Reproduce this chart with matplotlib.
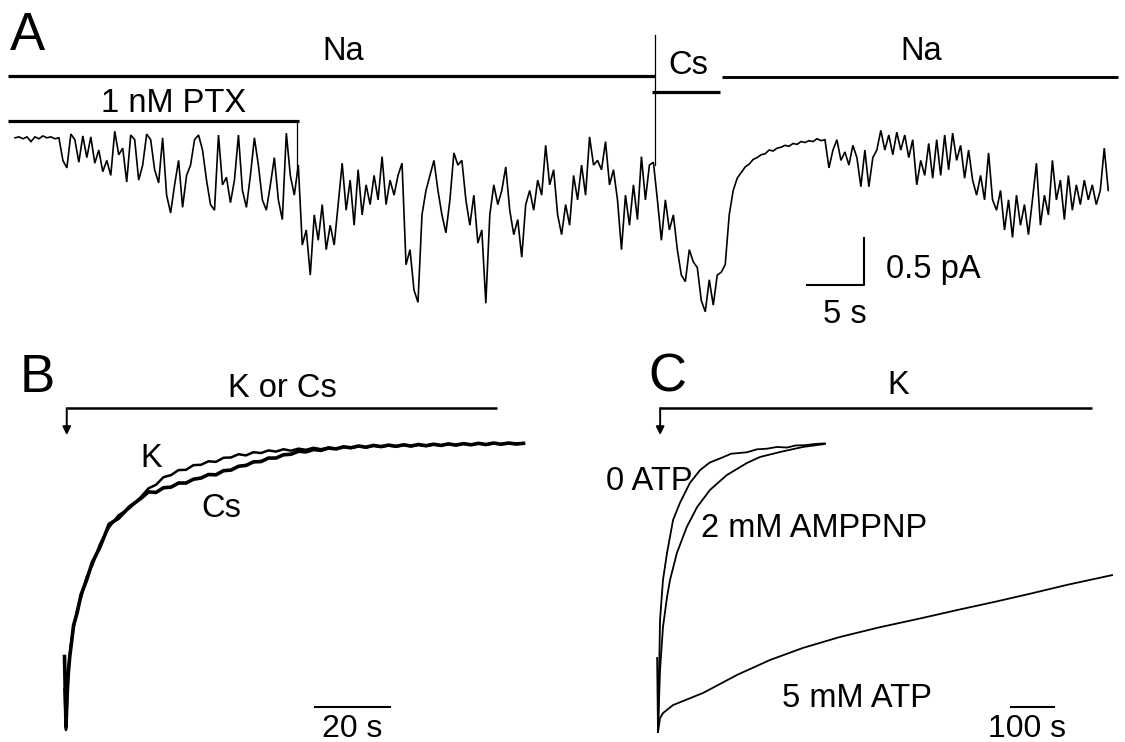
import numpy as np
import matplotlib
matplotlib.use("Agg")
import matplotlib.pyplot as plt

plt.rcParams['font.family'] = ['Liberation Sans', 'DejaVu Sans']

# ---------------- Panel A data (single-channel-like current, pA) ----------------
dt_A = 0.35
trace_A_pA = [
    -0.03, -0.02, -0.04, -0.02, -0.07, -0.02, -0.04, -0.01, -0.03, -0.02, -0.04, -0.03,
    -0.27, -0.35, 0.01, -0.05, -0.29, -0.01, -0.24, -0.02, -0.30, -0.16, -0.39, -0.27,
    -0.43, 0.04, -0.21, -0.14, -0.50, 0.00, -0.05, -0.48, -0.32, 0.01, -0.05, -0.37,
    -0.51, -0.03, -0.64, -0.83, -0.53, -0.27, -0.77, -0.43, -0.32, -0.05, 0.00, -0.16,
    -0.48, -0.74, -0.80, 0.00, -0.53, -0.45, -0.72, -0.48, 0.00, -0.59, -0.77, -0.43,
    -0.03, -0.32, -0.69, -0.80, -0.53, -0.24, -0.69, -0.90, 0.02, -0.43, -0.64, -0.32,
    -1.17, -1.01, -1.49, -0.85, -1.12, -0.74, -1.22, -0.96, -1.17, -0.74, -0.30, -0.80,
    -0.48, -0.96, -0.37, -0.85, -0.53, -0.74, -0.43, -0.69, -0.23, -0.74, -0.48, -0.64,
    -0.43, -0.30, -1.38, -1.22, -1.65, -1.78, -0.85, -0.59, -0.43, -0.27, -0.59, -0.85,
    -1.04, -0.69, -0.19, -0.32, -0.27, -0.69, -0.96, -0.64, -1.15, -1.01, -1.79, -0.85,
    -0.53, -0.74, -0.59, -0.34, -0.80, -1.06, -0.90, -1.30, -0.74, -0.59, -0.80, -0.48,
    -0.64, -0.11, -0.53, -0.37, -0.85, -1.06, -0.74, -0.96, -0.43, -0.69, -0.32, -0.64,
    -0.02, -0.32, -0.27, -0.37, -0.07, -0.53, -0.37, -0.69, -1.22, -0.64, -0.96, -0.53,
    -0.90, -0.23, -0.69, -0.32, -0.29, -0.69, -1.12, -0.69, -1.01, -0.85, -1.22, -1.49,
    -1.56, -1.22, -1.35, -1.41, -1.76, -1.88, -1.54, -1.81, -1.49, -1.46, -1.38, -0.85,
    -0.59, -0.46, -0.40, -0.34, -0.31, -0.26, -0.24, -0.21, -0.20, -0.16, -0.17, -0.14,
    -0.13, -0.11, -0.12, -0.09, -0.10, -0.07, -0.08, -0.06, -0.07, -0.04, -0.06, -0.05,
    -0.35, -0.16, -0.05, -0.27, -0.18, -0.32, -0.11, -0.24, -0.55, -0.16, -0.55, -0.24,
    -0.16, 0.05, -0.16, 0.00, -0.21, 0.03, -0.16, 0.00, -0.24, -0.05, -0.53, -0.27,
    -0.43, -0.09, -0.46, -0.05, -0.43, 0.00, -0.37, 0.02, -0.27, -0.11, -0.46, -0.16,
    -0.48, -0.64, -0.43, -0.69, -0.19, -0.69, -0.80, -0.59, -1.01, -0.69, -1.09, -0.64,
    -0.96, -0.74, -1.06, -0.69, -0.30, -0.96, -0.64, -0.85, -0.27, -0.69, -0.48, -0.90,
    -0.43, -0.80, -0.53, -0.74, -0.48, -0.69, -0.53, -0.74, -0.59, -0.14, -0.59,
]
# solution exchange times (s)
A_na1 = (-0.6, 56.1)
A_cs = (55.9, 61.8)
A_na2 = (62.0, 96.75)
A_ptx = (-0.6, 24.9)

# ---------------- Panel B data (normalised current) ----------------
B_time_s = [-0.4, 0, 0.3, 0.6, 1.0, 1.5, 2.0, 3.0, 4.0, 5.5, 7.0, 9.0, 11.5, 14.0, 17.0] + list(range(20, 124, 2))
B_K = [-0.86, -1.00, -0.90, -0.80, -0.745, -0.69, -0.655, -0.59, -0.55, -0.48, -0.44, -0.37, -0.31, -0.27, -0.245,
       -0.207, -0.178, -0.166, -0.140, -0.133, -0.116, -0.115, -0.099, -0.098, -0.086, -0.088, -0.074, -0.073,
       -0.062, -0.066, -0.055, -0.058, -0.049, -0.053, -0.045, -0.050, -0.043, -0.047, -0.040, -0.045, -0.039,
       -0.043, -0.036, -0.041, -0.035, -0.039, -0.033, -0.037, -0.032, -0.036, -0.031, -0.035, -0.030, -0.034,
       -0.029, -0.032, -0.027, -0.031, -0.026, -0.030, -0.025, -0.029, -0.025, -0.028, -0.024, -0.028, -0.025]
B_Cs = [-0.75, -0.99, -0.88, -0.81, -0.75, -0.70, -0.645, -0.60, -0.54, -0.49, -0.43, -0.38, -0.30, -0.28, -0.24,
        -0.212, -0.190, -0.192, -0.176, -0.174, -0.160, -0.160, -0.147, -0.143, -0.131, -0.132, -0.118, -0.116,
        -0.103, -0.100, -0.088, -0.087, -0.075, -0.075, -0.064, -0.062, -0.052, -0.054, -0.046, -0.049, -0.041,
        -0.044, -0.037, -0.040, -0.034, -0.038, -0.032, -0.036, -0.031, -0.035, -0.030, -0.034, -0.029, -0.033,
        -0.028, -0.032, -0.027, -0.031, -0.026, -0.030, -0.025, -0.029, -0.024, -0.028, -0.024, -0.027, -0.025]
B_sol = (0.2, 115.0)

# ---------------- Panel C data (normalised current) ----------------
C0_time_s = [-2, 0, 2.3, 4.7, 11.6, 21, 35, 51, 74, 98, 120, 144, 170, 207, 230, 253, 277, 300, 320, 342, 365, 388]
C0_atp = [-0.75, -1.0, -0.824, -0.622, -0.486, -0.395, -0.284, -0.226, -0.159, -0.115, -0.090, -0.076, -0.060,
          -0.055, -0.045, -0.043, -0.037, -0.039, -0.032, -0.031, -0.027, -0.025]
C1_time_s = [0, 4.7, 11.6, 21, 28, 44, 67, 91, 121, 160, 207, 237, 284, 337, 388]
C1_amppnp = [-1.0, -0.791, -0.645, -0.544, -0.486, -0.395, -0.307, -0.240, -0.182, -0.132, -0.091, -0.071,
             -0.054, -0.037, -0.027]
C2_time_s = [0, 4.7, 11.6, 35, 105, 184, 260, 337, 423, 516, 614, 702, 784, 865, 951, 1056]
C2_atp5 = [-1.0, -0.953, -0.936, -0.909, -0.868, -0.807, -0.757, -0.716, -0.679, -0.646, -0.615, -0.586,
           -0.560, -0.533, -0.503, -0.470]
C_sol = (5.0, 1010.0)

# ---------------- layout ----------------
W, H = 1125, 742
fig = plt.figure(figsize=(W / 100, H / 100), dpi=100)


class Panel:
    def __init__(self, rect, x0, sx, y0, sy):
        l, t, r, b = rect
        self.x0, self.sx, self.y0, self.sy = x0, sx, y0, sy
        self.ax = fig.add_axes([l / W, 1 - b / H, (r - l) / W, (b - t) / H])
        self.ax.set_xlim((l - x0) / sx, (r - x0) / sx)
        self.ax.set_ylim((y0 - b) / sy, (y0 - t) / sy)
        self.ax.axis('off')

    def d(self, xp, yp):
        return (xp - self.x0) / self.sx, (self.y0 - yp) / self.sy

    def dy(self, yp):
        return (self.y0 - yp) / self.sy


FS = 23.5
LET = 38
k = 'black'

# ---- Panel A ----
pA = Panel((0, 0, W, 340), 15, 11.4, 135, 94)
ax = pA.ax
tA = np.arange(len(trace_A_pA)) * dt_A
ax.plot(tA, trace_A_pA, color=k, lw=1.2, solid_joinstyle='miter')
ax.plot(A_na1, [pA.dy(76)] * 2, color=k, lw=2.3, solid_capstyle='butt')
ax.plot(A_cs, [pA.dy(92)] * 2, color=k, lw=2.3, solid_capstyle='butt')
ax.plot(A_na2, [pA.dy(77)] * 2, color=k, lw=2.1, solid_capstyle='butt')
ax.plot(A_ptx, [pA.dy(121)] * 2, color=k, lw=2.3, solid_capstyle='butt')
ax.plot([A_ptx[1] - 0.2] * 2, [pA.dy(121), pA.dy(172)], color=k, lw=0.9)
ax.plot([A_na1[1]] * 2, [pA.dy(35), pA.dy(165)], color=k, lw=0.9)
ax.text(*pA.d(10, 50), 'A', fontsize=LET, ha='left', va='baseline')
ax.text(*pA.d(343, 60), 'Na', fontsize=FS, ha='center', va='baseline')
ax.text(*pA.d(921, 60), 'Na', fontsize=FS, ha='center', va='baseline')
ax.text(*pA.d(688, 74), 'Cs', fontsize=FS, ha='center', va='baseline')
ax.text(*pA.d(174, 112), '1 nM PTX', fontsize=FS, ha='center', va='baseline')
# scale bars 5 s / 0.5 pA
sbx, sby = pA.d(864, 285)
ax.plot([sbx - 5, sbx, sbx], [sby, sby, sby + 0.5], color=k, lw=1.5)
ax.text(*pA.d(886, 278), '0.5 pA', fontsize=FS, ha='left', va='baseline')
ax.text(*pA.d(845, 323), '5 s', fontsize=FS, ha='center', va='baseline')

# ---- Panel B ----
pB = Panel((0, 340, 560, H), 66, 3.75, 436, 294)
ax = pB.ax
ax.plot(B_time_s, B_Cs, color=k, lw=2.6)
ax.plot(B_time_s, B_K, color=k, lw=1.8)
yb = pB.dy(408)
ax.plot(B_sol, [yb, yb], color=k, lw=1.8, solid_capstyle='butt')
ax.annotate('', xy=(B_sol[0], pB.dy(435)), xytext=(B_sol[0], yb),
            arrowprops=dict(arrowstyle='-|>', lw=1.4, color=k, mutation_scale=12, shrinkA=0, shrinkB=0))
ax.text(*pB.d(20, 392), 'B', fontsize=LET, ha='left', va='baseline')
ax.text(*pB.d(282, 397), 'K or Cs', fontsize=FS, ha='center', va='baseline')
ax.text(*pB.d(151, 467), 'K', fontsize=FS, ha='center', va='baseline')
ax.text(*pB.d(221, 517), 'Cs', fontsize=FS, ha='center', va='baseline')
sx0, sy0 = pB.d(315, 707)
ax.plot([sx0, sx0 + 20], [sy0, sy0], color=k, lw=1.5)
ax.text(sx0 + 10, pB.dy(737), '20 s', fontsize=23, ha='center', va='baseline')

# ---- Panel C ----
pC = Panel((560, 340, W, H), 658, 0.43, 436, 296)
ax = pC.ax
ax.plot(C0_time_s, C0_atp, color=k, lw=1.3)
ax.plot(C1_time_s, C1_amppnp, color=k, lw=1.3)
ax.plot(C2_time_s, C2_atp5, color=k, lw=1.3)
yc = pC.dy(408)
ax.plot(C_sol, [yc, yc], color=k, lw=1.8, solid_capstyle='butt')
ax.annotate('', xy=(C_sol[0], pC.dy(435)), xytext=(C_sol[0], yc),
            arrowprops=dict(arrowstyle='-|>', lw=1.4, color=k, mutation_scale=12, shrinkA=0, shrinkB=0))
ax.text(*pC.d(648, 392), 'C', fontsize=LET, ha='left', va='baseline')
ax.text(*pC.d(898, 394), 'K', fontsize=FS, ha='center', va='baseline')
ax.text(*pC.d(693, 490), '0 ATP', fontsize=FS, ha='right', va='baseline')
ax.text(*pC.d(701, 537), '2 mM AMPPNP', fontsize=FS, ha='left', va='baseline')
ax.text(*pC.d(782, 707), '5 mM ATP', fontsize=FS, ha='left', va='baseline')
cx0, cy0 = pC.d(1011, 707)
ax.plot([cx0, cx0 + 100], [cy0, cy0], color=k, lw=1.5)
ax.text(*pC.d(1027, 737), '100 s', fontsize=23, ha='center', va='baseline')

fig.savefig('out.png', dpi=100, facecolor='white')
